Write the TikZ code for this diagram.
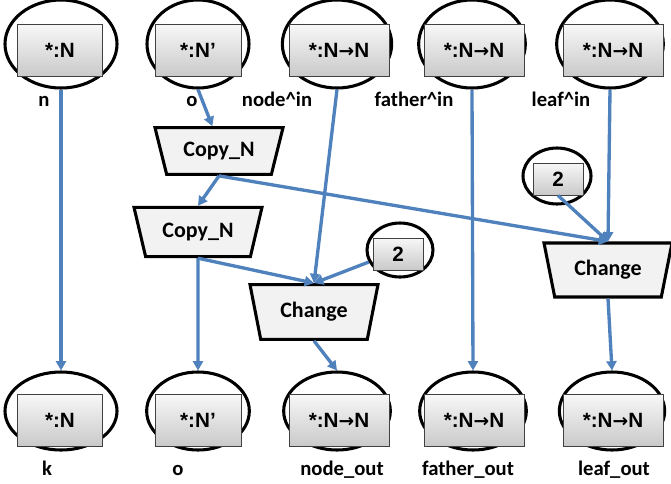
\documentclass[tikz,border=0pt]{standalone}
\usepackage{fontspec}
\setmainfont{Carlito}
\newfontfamily\boxfont{Liberation Sans}
\newfontfamily\arrowfont{DejaVu Sans}
\usepackage{xcolor}
\usepackage{tikz}
\usetikzlibrary{arrows.meta,shapes.geometric}
\definecolor{wireblue}{HTML}{4F81BD}
\newcommand{\maparrow}{{\arrowfont\fontsize{14}{18}\selectfont→}}

\begin{document}
\begin{tikzpicture}[
  x=0.75pt, y=-0.75pt,
  ring/.style 2 args={draw, ellipse, line width=2.3pt, minimum width=#1, minimum height=#2, inner sep=0pt},
  typebox/.style={draw=black!75, line width=0.7pt, top color=gray!6, bottom color=gray!42, minimum width=#1, minimum height=39pt, inner sep=0pt, font=\boxfont\bfseries\fontsize{15.5}{18}\selectfont},
  numbox/.style={typebox=37.5pt, minimum height=24pt},
  op/.style 2 args={draw, line width=2.3pt, fill=gray!10, trapezium, shape border rotate=180, trapezium angle=#1, trapezium stretches body, minimum width=96pt, minimum height=#2, inner sep=2pt, font=\bfseries\fontsize{16.5}{20}\selectfont},
  wire/.style={draw=wireblue, line width=2.5pt, -{Triangle[length=7pt,width=7.5pt]}},
  lbl/.style={anchor=base, inner sep=0pt, font=\bfseries\fontsize{15.5}{18}\selectfont},
]
\useasboundingbox (0,0) rectangle (671,483);

%% ---- Inputs (top row) ----
\node[ring={84pt}{66pt}]   (nin)      at (61,44)  {};
\node[typebox=64pt]        (ninbox)   at (60,50)  {*:N};
\node[ring={76.5pt}{66pt}] (oin)      at (198,44) {};
\node[typebox=64.5pt]      (oinbox)   at (198,50) {*:N’};
\node[ring={82pt}{66pt}]   (nodein)   at (337,44) {};
\node[typebox=75pt]        (nodeinbox) at (339,50) {*:N\maparrow N};
\node[ring={80pt}{66pt}]   (fatherin) at (472,44) {};
\node[typebox=75pt]        (fatherinbox) at (474,50) {*:N\maparrow N};
\node[ring={80pt}{66pt}]   (leafin)   at (610,44) {};
\node[typebox=75pt]        (leafinbox) at (613,50) {*:N\maparrow N};

\node[lbl] at (44,106)  {n};
\node[lbl] at (192,106) {o};
\node[lbl] at (277,106) {node\textasciicircum in};
\node[lbl] at (414,106) {father\textasciicircum in};
\node[lbl] at (561,106) {leaf\textasciicircum in};

%% ---- Operators ----
\node[op={63.4}{35pt}] (copy1)   at (219,151) {Copy\_N};
\node[op={63.4}{37pt}] (copy2)   at (198,232) {Copy\_N};
\node[op={66.4}{41pt}] (change1) at (314,312) {Change};
\node[op={66.4}{40.5pt}] (change2) at (608,270) {Change};

%% ---- Constants ----
\node[ring={49.5pt}{40.5pt}] (two1) at (400,250) {};
\node[numbox] (two1box) at (398,254) {2};
\node[ring={51pt}{42pt}] (two2) at (557,176) {};
\node[numbox] (two2box) at (558,179) {2};

%% ---- Outputs (bottom row) ----
\node[ring={84pt}{58.5pt}] (kout)      at (61,411)  {};
\node[typebox=64pt]        (koutbox)   at (60,420)  {*:N};
\node[ring={77pt}{58.5pt}] (oout)      at (198,411) {};
\node[typebox=64.5pt]      (ooutbox)   at (198,420) {*:N’};
\node[ring={80pt}{58.5pt}] (nodeout)   at (337,411) {};
\node[typebox=75pt]        (nodeoutbox) at (339,420) {*:N\maparrow N};
\node[ring={80pt}{58.5pt}] (fatherout) at (473,411) {};
\node[typebox=75pt]        (fatheroutbox) at (474,420) {*:N\maparrow N};
\node[ring={79pt}{58.5pt}] (leafout)   at (612,411) {};
\node[typebox=75pt]        (leafoutbox) at (613,420) {*:N\maparrow N};

\node[lbl] at (47,475)  {k};
\node[lbl] at (178,475) {o};
\node[lbl] at (342,475) {node\_out};
\node[lbl] at (468,475) {father\_out};
\node[lbl] at (614,475) {leaf\_out};

%% ---- Wires ----
\draw[wire] (nin.south) -- (kout.north);
\draw[wire] (oin.south) -- ([xshift=-5pt]copy1.north);
\draw[wire] (copy1.south) -- (copy2.north);
\draw[wire] (copy1.south) -- (change2.north);
\draw[wire] (copy2.south) -- (oout.north);
\draw[wire] (copy2.south) -- (change1.north);
\draw[wire] (nodein.south) -- (change1.north);
\draw[wire] (two1) -- (change1.north);
\draw[wire] (change1.south) -- (nodeout.north);
\draw[wire] (fatherin.south) -- (fatherout.north);
\draw[wire] (leafin.south) -- (change2.north);
\draw[wire] (two2box.south) -- (change2.north);
\draw[wire] (change2.south) -- (leafout.north);

\end{tikzpicture}
\end{document}
